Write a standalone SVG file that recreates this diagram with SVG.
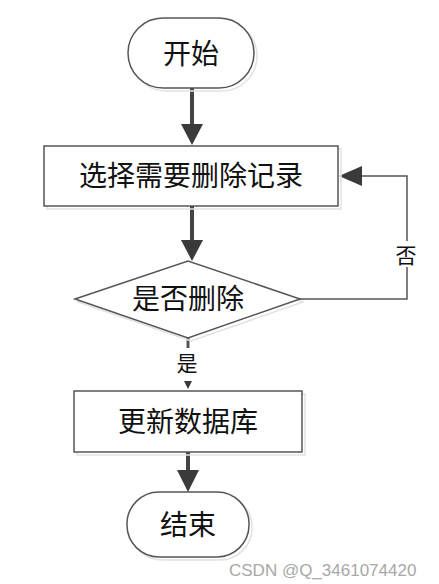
<svg xmlns="http://www.w3.org/2000/svg" width="439" height="584" viewBox="0 0 439 584">
<style>
.shape{fill:#fff;stroke:#555;stroke-width:1.5}
.shadow{fill:none;stroke:#e2e2e2;stroke-width:1.5}
.lbl{font-family:"Noto Sans CJK SC",sans-serif;font-size:28px;fill:#111;text-anchor:middle}
.small{font-size:21px}
.thick{stroke:#444;stroke-width:4;fill:none}
.thin{stroke:#555;stroke-width:1.5;fill:none}
.head{fill:#3a3a3a}
.wm{font-family:"Liberation Sans",Arial,sans-serif;font-size:17px;fill:#a8a8a8}
</style>
<rect width="439" height="584" fill="#fff"/>
<g id="connectors">
  <line class="thick" x1="192" y1="88" x2="192" y2="126"/>
  <polygon class="head" points="181,124 203,124 192,145"/>
  <line class="thick" x1="192" y1="206" x2="192" y2="242"/>
  <polygon class="head" points="181,240 203,240 192,261"/>
  <polyline class="thin" points="300,299 407,299 407,176 360,176"/>
  <polygon class="head" points="362,166 362,186 339,176"/>
  <rect x="395" y="241" width="22" height="26" fill="#fff"/>
  <text x="406" y="263" class="lbl small">否</text>
  <line x1="188" y1="338" x2="188" y2="348" stroke="#555" stroke-width="3"/>
  <text x="187" y="371" class="lbl small">是</text>
  <polygon class="head" points="184,381 192,381 188,389"/>
  <line class="thick" x1="188" y1="452" x2="188" y2="472"/>
  <polygon class="head" points="177,470 199,470 188,492"/>
</g>
<g id="start">
  <rect class="shadow" x="131" y="21" width="126" height="70" rx="35"/>
  <rect class="shape" x="128" y="18" width="126" height="70" rx="35"/>
  <text class="lbl" x="191" y="64">开始</text>
</g>
<g id="select">
  <rect class="shadow" x="47" y="149" width="294" height="60"/>
  <rect class="shape" x="44" y="146" width="294" height="60"/>
  <text class="lbl" x="191" y="186">选择需要删除记录</text>
</g>
<g id="decide">
  <polygon class="shadow" points="78,302 191,264 303,302 191,341"/>
  <polygon class="shape" points="75,299 188,261 300,299 188,338"/>
  <text class="lbl" x="188" y="309">是否删除</text>
</g>
<g id="update">
  <rect class="shadow" x="77" y="394" width="228" height="61"/>
  <rect class="shape" x="74" y="391" width="228" height="61"/>
  <text class="lbl" x="188" y="432">更新数据库</text>
</g>
<g id="end">
  <rect class="shadow" x="130" y="495" width="122" height="65" rx="32"/>
  <rect class="shape" x="127" y="492" width="122" height="65" rx="32"/>
  <text class="lbl" x="188" y="535">结束</text>
</g>
<text class="wm" x="229" y="576">CSDN @Q_3461074420</text>
</svg>
